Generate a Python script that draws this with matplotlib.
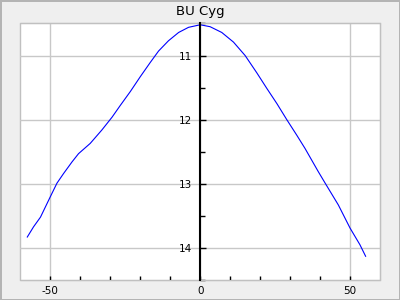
import matplotlib
matplotlib.use("Agg")
import matplotlib.pyplot as plt
from matplotlib.ticker import MultipleLocator, FixedLocator

# light curve of BU Cyg
phase = [-57.7, -55.6, -53.3, -50.0, -47.8, -45.6, -42.8, -40.6, -36.7, -32.8,
         -29.4, -26.7, -23.3, -20.0, -16.7, -13.9, -10.6, -7.2, -3.9, 0.0,
         3.3, 7.2, 11.1, 15.0, 18.9, 22.2, 25.6, 28.9, 32.2, 35.0,
         39.4, 41.7, 46.1, 50.0, 53.3, 55.2]
mag = [13.83, 13.67, 13.52, 13.20, 12.99, 12.84, 12.66, 12.53, 12.37, 12.16,
       11.96, 11.78, 11.56, 11.33, 11.11, 10.93, 10.77, 10.64, 10.56, 10.52,
       10.55, 10.64, 10.79, 11.00, 11.27, 11.51, 11.75, 12.00, 12.24, 12.45,
       12.81, 12.99, 13.33, 13.69, 13.95, 14.13]
title = "BU Cyg"
x_minor = [-40, -30, -20, -10, 10, 20, 30, 40]

plt.rcParams['axes.unicode_minus'] = False
plt.rcParams['font.family'] = 'DejaVu Sans'

fig = plt.figure(figsize=(4, 3), dpi=100)
fig.patch.set_facecolor('#efefef')
fig.patch.set_edgecolor('#b4b4b4')
fig.patch.set_linewidth(2)

ax = fig.add_axes([0.051, 0.0667, 0.899, 0.855])
ax.plot(phase, mag, color='#0000ff', lw=0.8)

ax.set_xlim(-60, 60)
ax.set_ylim(14.5, 10.5)

ax.xaxis.set_major_locator(MultipleLocator(50))
ax.xaxis.set_minor_locator(FixedLocator(x_minor))
ax.yaxis.set_major_locator(MultipleLocator(1))
ax.yaxis.set_minor_locator(MultipleLocator(0.5))

ax.grid(True, which='major', color='#c8c8c8', lw=1)
ax.set_axisbelow(True)

# y axis sits at x=0
ax.spines['left'].set_position(('data', 0))
ax.spines['left'].set_color('black')
ax.spines['left'].set_linewidth(1.5)
ax.spines['left'].set_zorder(3)
for s in ['top', 'right', 'bottom']:
    ax.spines[s].set_color('#c0c0c0')
ax.patch.set_edgecolor('#c0c0c0')
ax.patch.set_linewidth(1)

ax.tick_params(axis='x', which='both', direction='in', length=3, width=1,
               labelsize=7.5, pad=4)
ax.tick_params(axis='y', which='major', direction='in', length=4.3, width=1,
               labelsize=7.5, pad=6)
ax.tick_params(axis='y', which='minor', direction='in', length=3.6, width=1)

ax.set_title(title, fontsize=9.5, pad=6)

fig.savefig('out.png', dpi=100, facecolor=fig.get_facecolor(),
            edgecolor=fig.get_edgecolor())
